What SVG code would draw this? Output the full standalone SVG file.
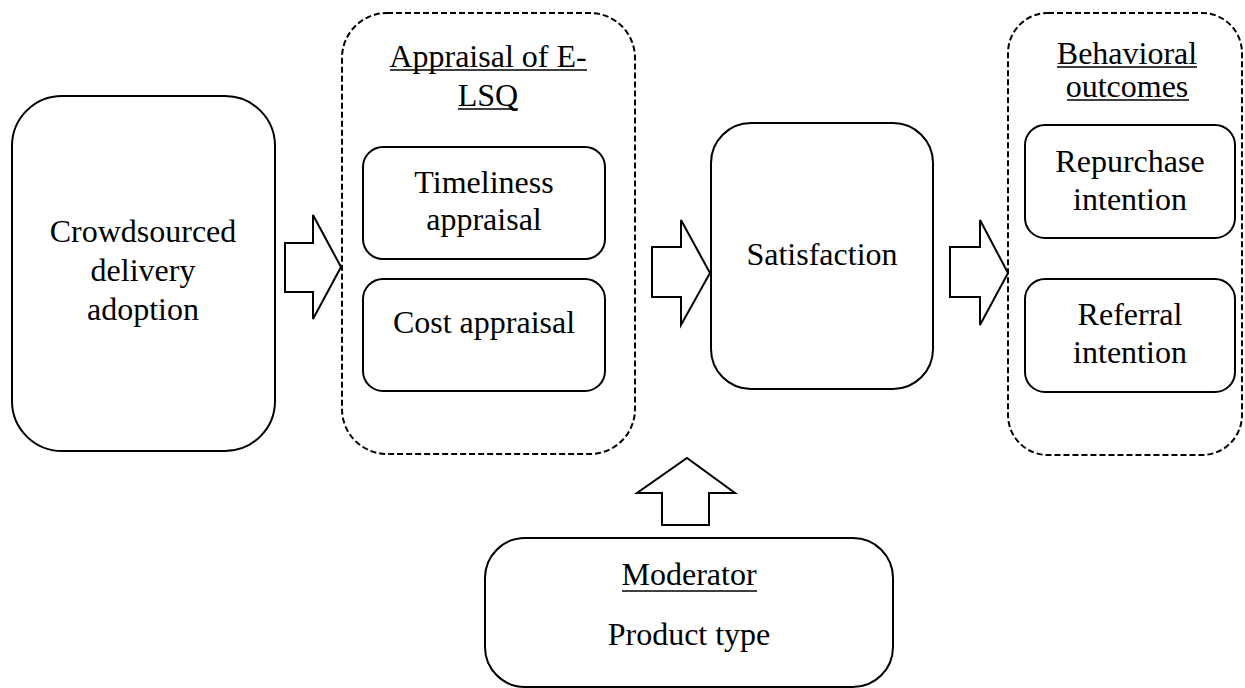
<svg xmlns="http://www.w3.org/2000/svg" width="1245" height="688" viewBox="0 0 1245 688">
  <style>
    .box { fill: #fff; stroke: #000; stroke-width: 2; }
    .group { fill: none; stroke: #000; stroke-width: 2; stroke-dasharray: 6 3; }
    .arrow { fill: #fff; stroke: #000; stroke-width: 2; stroke-linejoin: miter; }
    .ul { stroke: #000; stroke-width: 1.6; }
  </style>
  <rect width="1245" height="688" fill="#fff"/>

  <g id="adoption">
    <rect class="box" x="12" y="96" width="263" height="355" rx="50"/>
    <text x="143" y="242" font-family="'Liberation Serif', serif" font-size="32" text-anchor="middle">Crowdsourced</text>
    <text x="143" y="281" font-family="'Liberation Serif', serif" font-size="32" text-anchor="middle">delivery</text>
    <text x="143" y="320" font-family="'Liberation Serif', serif" font-size="32" text-anchor="middle">adoption</text>
  </g>

  <g id="appraisal">
    <rect class="group" x="342" y="13" width="293" height="441" rx="45"/>
    <text x="488" y="67" font-family="'Liberation Serif', serif" font-size="32" text-anchor="middle">Appraisal of E-</text>
    <line class="ul" x1="390" y1="70" x2="587" y2="70"/>
    <text x="488" y="106" font-family="'Liberation Serif', serif" font-size="32" text-anchor="middle">LSQ</text>
    <line class="ul" x1="458" y1="109" x2="518" y2="109"/>
  </g>

  <g id="timeliness">
    <rect class="box" x="363" y="147" width="242" height="112" rx="20"/>
    <text x="484" y="193" font-family="'Liberation Serif', serif" font-size="32" text-anchor="middle">Timeliness</text>
    <text x="484" y="230" font-family="'Liberation Serif', serif" font-size="32" text-anchor="middle">appraisal</text>
  </g>

  <g id="cost">
    <rect class="box" x="363" y="279" width="242" height="112" rx="20"/>
    <text x="484" y="333" font-family="'Liberation Serif', serif" font-size="32" text-anchor="middle">Cost appraisal</text>
  </g>

  <g id="satisfaction">
    <rect class="box" x="711" y="123" width="222" height="266" rx="40"/>
    <text x="822" y="265" font-family="'Liberation Serif', serif" font-size="32" text-anchor="middle">Satisfaction</text>
  </g>

  <g id="outcomes">
    <rect class="group" x="1008" y="13" width="234" height="442" rx="40"/>
    <text x="1127" y="64" font-family="'Liberation Serif', serif" font-size="32" text-anchor="middle">Behavioral</text>
    <line class="ul" x1="1057" y1="67" x2="1197" y2="67"/>
    <text x="1127" y="97" font-family="'Liberation Serif', serif" font-size="32" text-anchor="middle">outcomes</text>
    <line class="ul" x1="1067" y1="100" x2="1189" y2="100"/>
  </g>

  <g id="repurchase">
    <rect class="box" x="1025" y="125" width="210" height="113" rx="20"/>
    <text x="1130" y="172" font-family="'Liberation Serif', serif" font-size="32" text-anchor="middle">Repurchase</text>
    <text x="1130" y="210" font-family="'Liberation Serif', serif" font-size="32" text-anchor="middle">intention</text>
  </g>

  <g id="referral">
    <rect class="box" x="1025" y="279" width="210" height="113" rx="20"/>
    <text x="1130" y="325" font-family="'Liberation Serif', serif" font-size="32" text-anchor="middle">Referral</text>
    <text x="1130" y="363" font-family="'Liberation Serif', serif" font-size="32" text-anchor="middle">intention</text>
  </g>

  <g id="moderator">
    <rect class="box" x="485" y="538" width="408" height="149" rx="40"/>
    <text x="689" y="585" font-family="'Liberation Serif', serif" font-size="32" text-anchor="middle">Moderator</text>
    <line class="ul" x1="622" y1="591" x2="757" y2="591"/>
    <text x="689" y="645" font-family="'Liberation Serif', serif" font-size="32" text-anchor="middle">Product type</text>
  </g>

  <g id="connectors">
    <polygon class="arrow" points="285,243 313,243 313,215 341,267 313,319 313,292 285,292"/>
    <polygon class="arrow" points="652,247 681,247 681,220 710,273 681,325 681,297 652,297"/>
    <polygon class="arrow" points="950,247 980,247 980,220 1008,273 980,325 980,297 950,297"/>
    <polygon class="arrow" points="662,525 662,493 637,493 687,458 735,493 709,493 709,525"/>
  </g>
</svg>
